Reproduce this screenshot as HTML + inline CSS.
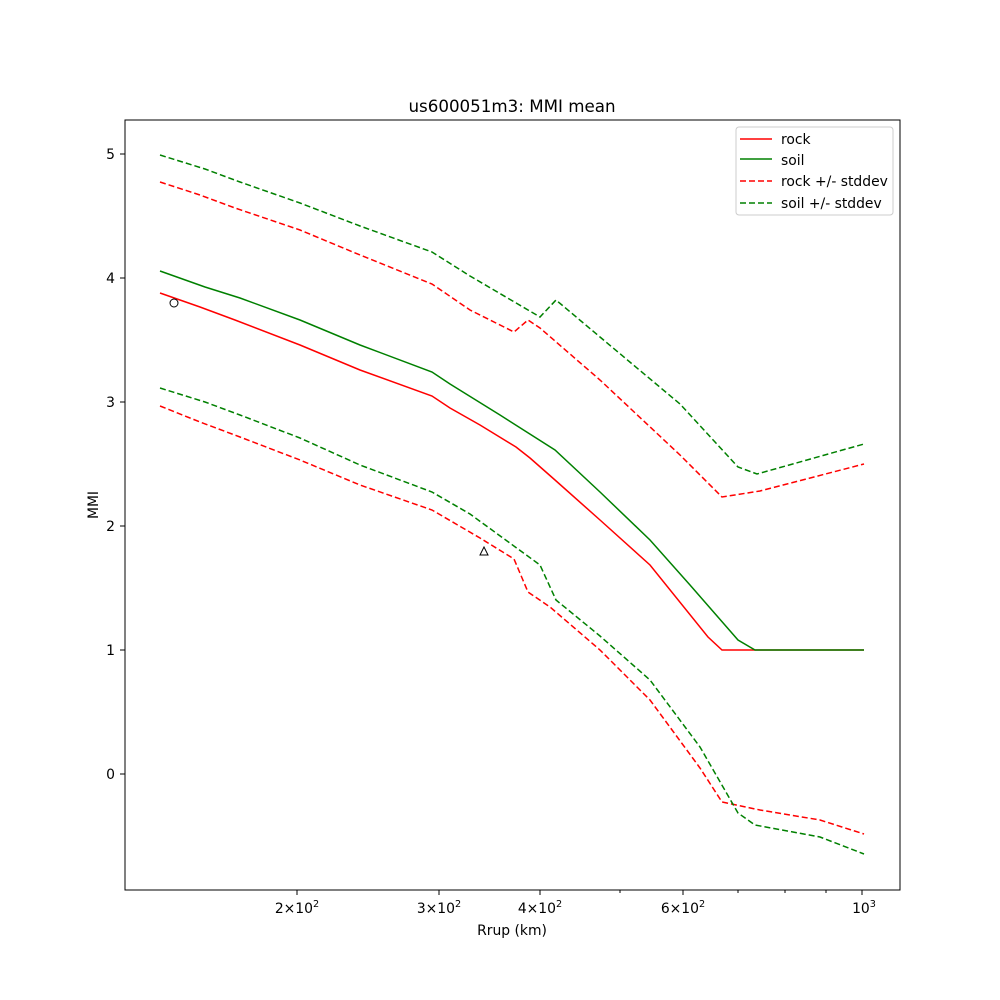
<!DOCTYPE html>
<html><head><meta charset="utf-8"><style>body{margin:0;background:#fff}svg{display:block}text{font-family:"DejaVu Sans","Liberation Sans",sans-serif;fill:#000}</style></head><body>
<svg width="1000" height="1000" viewBox="0 0 1000 1000" xmlns="http://www.w3.org/2000/svg">
<rect width="1000" height="1000" fill="#fff"/>
<text x="512" y="112" font-size="16.7" text-anchor="middle">us600051m3: MMI mean</text>
<g fill="none" stroke-width="1.5">
<polyline stroke="red" points="160,293 200,307 235,320 300,345 360,370 432,396 450,408 480,425 516,447 530,458 555,480 600,520 650,565 708,637 722,650 864,650"/>
<polyline stroke="green" points="160,271 205,287 240,298 300,320 360,345 432,372 450,384 500,415 555,450 600,492 650,540 690,585 738,640 755,650 864,650"/>
<polyline stroke="red" stroke-dasharray="6,3" points="160,182 200,195 235,208 300,230 360,255 432,284 470,310 514,332 528,320 540,328 600,380 680,455 722,497 760,491 864,464"/>
<polyline stroke="green" stroke-dasharray="6,3" points="160,155 205,169 240,182 300,203 360,226 432,252 470,276 540,317 556,300 600,337 680,404 738,467 757,474 864,444"/>
<polyline stroke="red" stroke-dasharray="6,3" points="160,406 200,422 240,437 300,460 360,485 432,510 480,538 514,559 528,592 550,607 600,650 650,700 700,768 722,802 760,810 820,820 864,834"/>
<polyline stroke="green" stroke-dasharray="6,3" points="160,388 205,402 240,415 300,438 360,465 432,492 470,514 540,565 556,600 600,636 650,680 700,747 738,813 755,825 820,837 864,854"/>
</g>
<circle cx="174" cy="303" r="4" fill="none" stroke="#000"/>
<polygon points="484,547 488,555 480,555" fill="none" stroke="#000"/>
<rect x="125" y="120" width="775" height="770" fill="none" stroke="#000" stroke-width="1"/>
<g stroke="#000">
<line x1="297" y1="890" x2="297" y2="895"/><line x1="439" y1="890" x2="439" y2="895"/><line x1="540" y1="890" x2="540" y2="895"/><line x1="683" y1="890" x2="683" y2="895"/><line x1="862" y1="890" x2="862" y2="895"/>
<line x1="620" y1="890" x2="620" y2="893"/><line x1="738" y1="890" x2="738" y2="893"/><line x1="785" y1="890" x2="785" y2="893"/><line x1="826" y1="890" x2="826" y2="893"/>
<line x1="120" y1="774" x2="125" y2="774"/><line x1="120" y1="650" x2="125" y2="650"/><line x1="120" y1="526" x2="125" y2="526"/><line x1="120" y1="402" x2="125" y2="402"/><line x1="120" y1="278" x2="125" y2="278"/><line x1="120" y1="154" x2="125" y2="154"/>
</g>
<g font-size="13.9" text-anchor="end">
<text x="115" y="779">0</text><text x="115" y="655">1</text><text x="115" y="531">2</text><text x="115" y="407">3</text><text x="115" y="283">4</text><text x="115" y="159">5</text>
</g>
<g font-size="13.9" text-anchor="middle">
<text x="297" y="913">2×10<tspan font-size="9.7" dy="-6">2</tspan></text>
<text x="439" y="913">3×10<tspan font-size="9.7" dy="-6">2</tspan></text>
<text x="540" y="913">4×10<tspan font-size="9.7" dy="-6">2</tspan></text>
<text x="683" y="913">6×10<tspan font-size="9.7" dy="-6">2</tspan></text>
<text x="864" y="913">10<tspan font-size="9.7" dy="-6">3</tspan></text>
</g>
<text x="512" y="935" font-size="13.9" text-anchor="middle">Rrup (km)</text>
<text x="98" y="505" font-size="13.9" text-anchor="middle" transform="rotate(-90 98 505)">MMI</text>
<rect x="736" y="127" width="157" height="88" fill="#fff" stroke="#ccc" rx="3"/>
<g stroke-width="1.5">
<line x1="740" y1="139" x2="772" y2="139" stroke="red"/>
<line x1="740" y1="159" x2="772" y2="159" stroke="green"/>
<line x1="740" y1="181" x2="772" y2="181" stroke="red" stroke-dasharray="6,3"/>
<line x1="740" y1="203" x2="772" y2="203" stroke="green" stroke-dasharray="6,3"/>
</g>
<g font-size="13.9">
<text x="781" y="144">rock</text><text x="781" y="165">soil</text><text x="781" y="186">rock +/- stddev</text><text x="781" y="208">soil +/- stddev</text>
</g>
</svg>
</body></html>
